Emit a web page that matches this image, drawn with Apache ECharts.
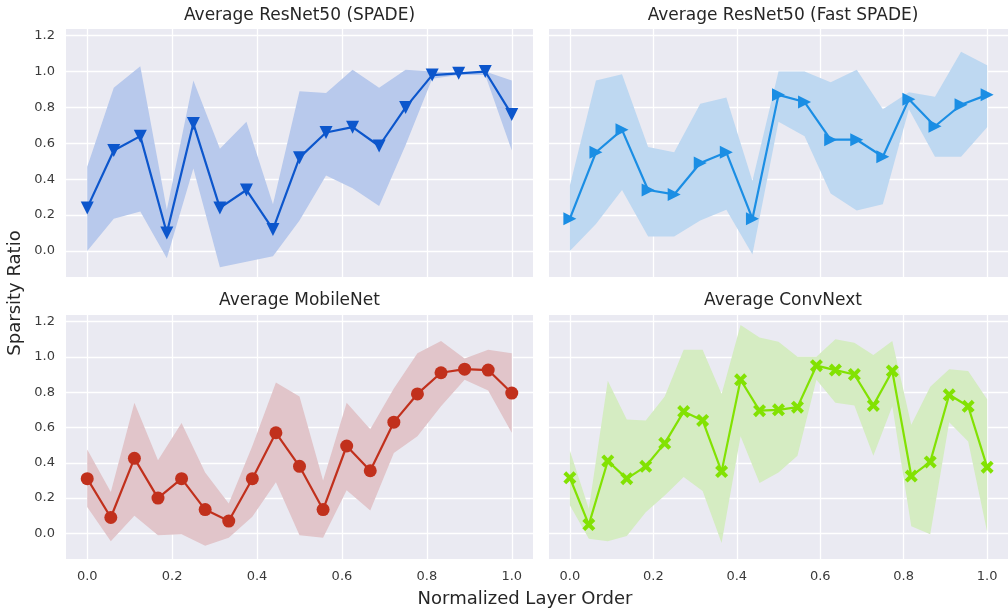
<!DOCTYPE html>
<html>
<head>
<meta charset="utf-8">
<title>Sparsity Ratio by Layer</title>
<script src="https://cdn.jsdelivr.net/npm/echarts@6/dist/echarts.min.js"></script>
<style>
  html, body { margin: 0; padding: 0; background: #ffffff; }
  #chart { width: 1008px; height: 609px; }
</style>
</head>
<body>
<div id="chart"></div>
<script>
// ---- data: mean sparsity per layer with min/max band ----
const spadeMean  = [0.24, 0.56, 0.64, 0.10, 0.71, 0.24, 0.34, 0.12, 0.52, 0.66, 0.69, 0.585, 0.80, 0.98, 0.99, 1.00, 0.76];
const spadeUpper = [0.47, 0.91, 1.03, 0.23, 0.95, 0.57, 0.72, 0.26, 0.89, 0.88, 1.01, 0.91, 1.01, 1.00, 0.995, 1.00, 0.95];
const spadeLower = [0.00, 0.18, 0.22, -0.04, 0.46, -0.09, -0.06, -0.03, 0.17, 0.42, 0.35, 0.25, 0.59, 0.96, 0.98, 0.98, 0.56];

const fastMean  = [0.18, 0.55, 0.675, 0.34, 0.315, 0.49, 0.55, 0.18, 0.87, 0.83, 0.62, 0.62, 0.525, 0.845, 0.695, 0.815, 0.87];
const fastUpper = [0.365, 0.95, 0.985, 0.58, 0.55, 0.82, 0.855, 0.39, 1.00, 1.00, 0.94, 1.01, 0.79, 0.885, 0.86, 1.11, 1.035];
const fastLower = [0.00, 0.15, 0.34, 0.08, 0.08, 0.17, 0.23, -0.02, 0.72, 0.64, 0.32, 0.225, 0.26, 0.79, 0.525, 0.525, 0.69];

const mobileMean  = [0.31, 0.09, 0.425, 0.20, 0.31, 0.135, 0.07, 0.31, 0.57, 0.38, 0.135, 0.495, 0.355, 0.63, 0.79, 0.91, 0.93, 0.925, 0.795];
const mobileUpper = [0.475, 0.235, 0.74, 0.415, 0.625, 0.345, 0.17, 0.495, 0.855, 0.775, 0.30, 0.74, 0.59, 0.82, 1.02, 1.09, 0.99, 1.04, 1.02];
const mobileLower = [0.15, -0.045, 0.10, -0.01, -0.005, -0.07, -0.025, 0.095, 0.29, -0.01, -0.025, 0.245, 0.13, 0.455, 0.55, 0.72, 0.87, 0.81, 0.57];

const convMean  = [0.315, 0.05, 0.41, 0.31, 0.38, 0.51, 0.69, 0.64, 0.35, 0.87, 0.695, 0.70, 0.715, 0.95, 0.925, 0.90, 0.725, 0.92, 0.325, 0.405, 0.785, 0.72, 0.375];
const convUpper = [0.47, 0.14, 0.865, 0.645, 0.64, 0.775, 1.04, 1.04, 0.79, 1.18, 1.11, 1.085, 1.00, 1.00, 1.10, 1.08, 1.01, 1.09, 0.615, 0.83, 0.93, 0.92, 0.76];
const convLower = [0.16, -0.03, -0.045, -0.015, 0.12, 0.215, 0.32, 0.24, -0.055, 0.55, 0.285, 0.345, 0.44, 0.87, 0.74, 0.725, 0.44, 0.72, 0.04, -0.005, 0.63, 0.52, 0.01];

const panelTitles = ['Average ResNet50 (SPADE)', 'Average ResNet50 (Fast SPADE)', 'Average MobileNet', 'Average ConvNext'];
const yAxisTitle = 'Sparsity Ratio';
const xAxisTitle = 'Normalized Layer Order';

// layer position normalised to [0, 1]
const layerOrder = arr => arr.map((_, i) => i / (arr.length - 1));

const FONT = '"DejaVu Sans", "Liberation Sans", sans-serif';
const BG = '#eaeaf2';

const X_SYMBOL = 'path://M0,2.2 L2.2,0 L5,2.8 L7.8,0 L10,2.2 L7.2,5 L10,7.8 L7.8,10 L5,7.2 L2.2,10 L0,7.8 L2.8,5 Z';

const panels = [
  { mean: spadeMean,  upper: spadeUpper,  lower: spadeLower,  line: '#0c56cc', band: '#b8c9ec', symbol: 'triangle', rotate: 180, size: 13,
    grid: { left: 66, top: 29, width: 467, height: 248 } },
  { mean: fastMean,   upper: fastUpper,   lower: fastLower,   line: '#1b8ee4', band: '#bed8f1', symbol: 'triangle', rotate: -90, size: 13,
    grid: { left: 549, top: 29, width: 468, height: 248 } },
  { mean: mobileMean, upper: mobileUpper, lower: mobileLower, line: '#c1301c', band: '#e1c5ca', symbol: 'circle',   rotate: 0,   size: 13,
    grid: { left: 66, top: 315, width: 467, height: 244 } },
  { mean: convMean,   upper: convUpper,   lower: convLower,   line: '#82e202', band: '#d5ecc2', symbol: X_SYMBOL,   rotate: 0,   size: 13,
    grid: { left: 549, top: 315, width: 468, height: 244 } }
];

const grids = [], xAxes = [], yAxes = [], series = [];

panels.forEach((p, i) => {
  const xs = layerOrder(p.mean);
  const bottomRow = i >= 2;
  const leftCol = i % 2 === 0;

  grids.push(Object.assign({ show: true, backgroundColor: BG, borderWidth: 0, containLabel: false }, p.grid));

  xAxes.push({
    type: 'value', gridIndex: i, min: -0.05, max: 1.05,
    minInterval: 0.2, maxInterval: 0.2, splitNumber: 6,
    axisLine: { show: false }, axisTick: { show: false },
    axisLabel: {
      show: bottomRow, showMinLabel: false, showMaxLabel: false, margin: 11,
      color: '#3a3a3a', fontSize: 13, fontFamily: FONT,
      formatter: v => v.toFixed(1)
    },
    splitLine: { show: true, showMinLine: false, showMaxLine: false, lineStyle: { color: '#ffffff', width: 1.3 } }
  });

  yAxes.push({
    type: 'value', gridIndex: i, min: -0.145, max: 1.237,
    minInterval: 0.2, maxInterval: 0.2, splitNumber: 6,
    axisLine: { show: false }, axisTick: { show: false },
    axisLabel: {
      show: leftCol, showMinLabel: false, showMaxLabel: false, margin: 11,
      color: '#3a3a3a', fontSize: 13, fontFamily: FONT,
      formatter: v => v.toFixed(1)
    },
    splitLine: { show: true, showMinLine: false, showMaxLine: false, lineStyle: { color: '#ffffff', width: 1.3 } }
  });

  // min/max band as one filled polygon
  series.push({
    type: 'custom', xAxisIndex: i, yAxisIndex: i, silent: true, z: 1,
    data: [[0, 0]],
    renderItem: (params, api) => {
      const top = xs.map((x, k) => api.coord([x, p.upper[k]]));
      const bot = xs.map((x, k) => api.coord([x, p.lower[k]])).reverse();
      return { type: 'polygon', shape: { points: top.concat(bot) }, style: { fill: p.band } };
    }
  });

  // mean line with markers
  series.push({
    type: 'line', xAxisIndex: i, yAxisIndex: i, z: 3,
    data: xs.map((x, k) => [x, p.mean[k]]),
    symbol: p.symbol, symbolRotate: p.rotate, symbolSize: p.size, showAllSymbol: true,
    lineStyle: { color: p.line, width: 2.2 },
    itemStyle: { color: p.line, opacity: 1 },
    emphasis: { disabled: true }
  });
});

const titleText = (text, x, y) => ({
  type: 'text', x: x, y: y,
  style: { text: text, fill: '#262626', font: '17px ' + FONT, textAlign: 'center', textVerticalAlign: 'middle' }
});

const graphics = [
  titleText(panelTitles[0], 299.5, 16),
  titleText(panelTitles[1], 783, 16),
  titleText(panelTitles[2], 299.5, 301),
  titleText(panelTitles[3], 783, 301),
  {
    type: 'text', x: 15, y: 293, rotation: Math.PI / 2,
    style: { text: yAxisTitle, fill: '#262626', font: '18px ' + FONT, textAlign: 'center', textVerticalAlign: 'middle' }
  },
  {
    type: 'text', x: 525, y: 599,
    style: { text: xAxisTitle, fill: '#262626', font: '18px ' + FONT, textAlign: 'center', textVerticalAlign: 'middle' }
  }
];

const chart = echarts.init(document.getElementById('chart'), null, { renderer: 'canvas' });
chart.setOption({
  animation: false,
  backgroundColor: '#ffffff',
  grid: grids,
  xAxis: xAxes,
  yAxis: yAxes,
  series: series,
  graphic: graphics
});
</script>
</body>
</html>
